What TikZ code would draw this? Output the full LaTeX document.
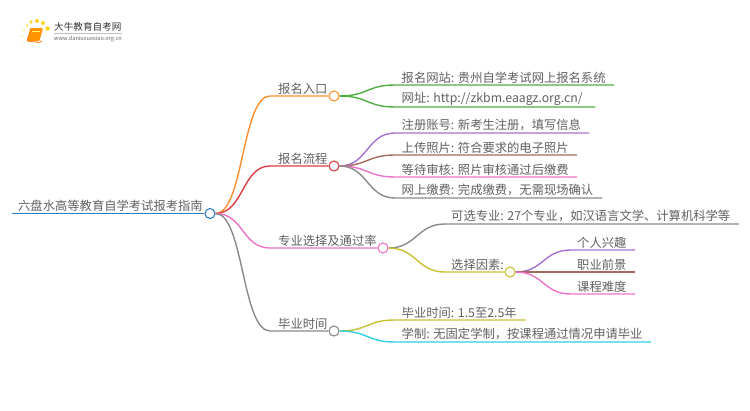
\documentclass[tikz,border=0pt]{standalone}
\usepackage{fontspec}
\setmainfont{Noto Sans CJK SC}
\definecolor{cblue}{HTML}{2E7EBF}
\definecolor{corange}{HTML}{FF8F2E}
\definecolor{cred}{HTML}{DD3E42}
\definecolor{cpink}{HTML}{EE72C8}
\definecolor{cgrey}{HTML}{8A8A8A}
\definecolor{cgreen}{HTML}{4DAF3F}
\definecolor{cpurple}{HTML}{A472D0}
\definecolor{cbrown}{HTML}{A36A5E}
\definecolor{colive}{HTML}{C6C032}
\definecolor{ccyan}{HTML}{30CFE0}
\definecolor{ctext}{HTML}{606060}
\tikzset{
  lbl/.style={anchor=south west,inner sep=0pt,font=\fontsize{12.3}{12.3}\selectfont,text=ctext},
  dot/.style={circle,draw=#1,fill=white,line width=1.1pt,minimum size=10pt,inner sep=0pt},
  lnk/.style={draw=#1,line width=1.4pt},
}
\begin{document}
\begin{tikzpicture}[x=1pt,y=-1pt]
\useasboundingbox (0,0) rectangle (750,410);
% logo
\foreach \a/\b/\r/\o in {24/30/1.2/.5,27/25.5/1.5/.6,31/22/1.8/.8,37/21/2/.9,43/23/2/.9,47.5/28.5/2.2/1,22/36/1.1/.4,23.5/43/1/.25}
  \fill[yellow!70!orange,opacity=\o] (\a,\b) circle (\r);
\fill[orange!85!yellow,rounded corners=1pt] (31,28) -- (43,28) -- (39.5,41) -- (27,41) -- cycle;
\draw[orange!90!red,line width=.8pt,rounded corners=1pt] (31,28) -- (27,41) -- (39.5,42.5) -- (42,41);
\fill[yellow!60] (32,31) rectangle (40,32.2);
\node[anchor=west,inner sep=0pt,font=\fontsize{9.6}{9.6}\selectfont,text=black!80] (logot) at (54,27) {大牛教育自考网};
\node[anchor=west,inner sep=0pt,font=\fontsize{5.6}{5.6}\selectfont,text=black!60] (logou) at (54,39) {www.daniuxuexiao.org.cn};
\draw[black!25,line width=.5pt] (logot.south west)+(0,1.5) -- ++(68,1.5);

% root & L1 dots
\node[dot=cblue] (root) at (210,213.5) {};
\node[dot=corange] (a) at (334,96) {};
\node[dot=cred] (b) at (334,166) {};
\node[dot=cpink] (c) at (383,248) {};
\node[dot=cgrey] (d) at (334,331) {};
\node[dot=colive] (c2) at (510,272) {};

% labels
\node[lbl] (troot) at (18,212) {六盘水高等教育自学考试报考指南};
\node[lbl] (ta) at (278,94.5) {报名入口};
\node[lbl] (tb) at (278,164.5) {报名流程};
\node[lbl] (tc) at (278,246.5) {专业选择及通过率};
\node[lbl] (td) at (278,329.5) {毕业时间};
\node[lbl] (a1) at (401.5,83.5) {报名网站: 贵州自学考试网上报名系统};
\node[lbl] (a2) at (401.5,105.5) {网址: http://zkbm.eaagz.org.cn/};
\node[lbl] (b1) at (401.5,131.5) {注册账号: 新考生注册，填写信息};
\node[lbl] (b2) at (401.5,153.5) {上传照片: 符合要求的电子照片};
\node[lbl] (b3) at (401.5,175.5) {等待审核: 照片审核通过后缴费};
\node[lbl] (b4) at (401.5,196.5) {网上缴费: 完成缴费，无需现场确认};
\node[lbl] (c1) at (451,222.5) {可选专业: 27个专业，如汉语言文学、计算机科学等};
\node[lbl] (tc2) at (451,270.5) {选择因素:};
\node[lbl] (c21) at (577,248.5) {个人兴趣};
\node[lbl] (c22) at (577,270.5) {职业前景};
\node[lbl] (c23) at (577,292.5) {课程难度};
\node[lbl] (d1) at (401.5,318.5) {毕业时间: 1.5至2.5年};
\node[lbl] (d2) at (401.5,340.5) {学制: 无固定学制，按课程通过情况申请毕业};

% connectors: root trunk
\coordinate (r0) at (12,213.5);
\path[lnk=cblue] (r0) -- (root.west);
\path[lnk=corange] (root.east) .. controls +(28,0) and +(-28,0) .. (270,96) -- (a.west);
\path[lnk=cred] (root.east) .. controls +(28,0) and +(-28,0) .. (270,166) -- (b.west);
\path[lnk=cpink] (root.east) .. controls +(28,0) and +(-28,0) .. (270,248) -- (c.west);
\path[lnk=cgrey] (root.east) .. controls +(28,0) and +(-28,0) .. (270,331) -- (d.west);
% a
\path[lnk=cgreen] (a.east) .. controls +(28,0) and +(-28,0) .. (395,85) -- (614,85);
\path[lnk=cgreen] (a.east) .. controls +(28,0) and +(-28,0) .. (395,107) -- (595,107);
% b
\path[lnk=cpurple] (b.east) .. controls +(28,0) and +(-28,0) .. (395,133) -- (589,133);
\path[lnk=cbrown] (b.east) .. controls +(28,0) and +(-28,0) .. (395,155) -- (577,155);
\path[lnk=cpink] (b.east) .. controls +(28,0) and +(-28,0) .. (395,177) -- (577,177);
\path[lnk=cgrey] (b.east) .. controls +(28,0) and +(-28,0) .. (395,198) -- (602,198);
% c
\path[lnk=cgrey] (c.east) .. controls +(28,0) and +(-28,0) .. (445,224) -- (739,224);
\path[lnk=colive] (c.east) .. controls +(28,0) and +(-28,0) .. (445,272) -- (c2.west);
% c2
\path[lnk=cpurple] (c2.east) .. controls +(28,0) and +(-28,0) .. (571,250) -- (635,250);
\path[lnk=cbrown] (c2.east) .. controls +(28,0) and +(-28,0) .. (571,272) -- (635,272);
\path[lnk=cpink] (c2.east) .. controls +(28,0) and +(-28,0) .. (571,294) -- (635,294);
% d
\path[lnk=colive] (d.east) .. controls +(28,0) and +(-28,0) .. (395,320) -- (526,320);
\path[lnk=ccyan] (d.east) .. controls +(28,0) and +(-28,0) .. (395,342) -- (651,342);
\end{tikzpicture}
\end{document}
